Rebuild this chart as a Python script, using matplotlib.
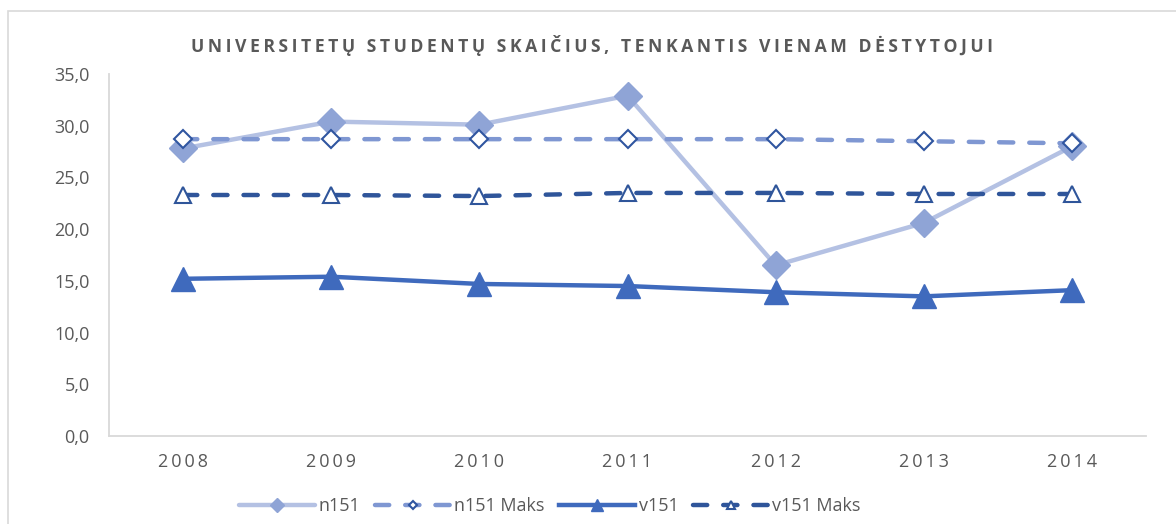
import matplotlib.pyplot as plt
import matplotlib.patches as patches
import numpy as np

years = ["2008", "2009", "2010", "2011", "2012", "2013", "2014"]
n151 = [27.8, 30.4, 30.1, 32.9, 16.5, 20.6, 28.0]
n151_maks = [28.7, 28.7, 28.7, 28.7, 28.7, 28.5, 28.3]
v151 = [15.2, 15.4, 14.7, 14.5, 13.9, 13.5, 14.1]
v151_maks = [23.3, 23.3, 23.2, 23.5, 23.5, 23.4, 23.4]

title = "UNIVERSITETŲ STUDENTŲ SKAIČIUS, TENKANTIS VIENAM DĖSTYTOJUI"
fonts = ["Open Sans", "DejaVu Sans"]
txt = "#595959"


def spaced(s, sep="\u2009"):
    return sep.join(s)


fig = plt.figure(figsize=(11.76, 5.24), dpi=100)
ax = fig.add_axes([109 / 1176, (524 - 436) / 524, (1146 - 109) / 1176, (436 - 74) / 524])

# outer chart frame (clipped on right / bottom)
fig.patches.append(patches.Rectangle((8 / 1176, -0.1), 1.2, (524 - 11) / 524 + 0.1,
                                     transform=fig.transFigure, fill=False,
                                     edgecolor="#D9D9D9", linewidth=1.2))

x = np.arange(len(years))
ax.plot(x, n151, color="#B4C1E3", lw=3.2, marker="D", ms=14, mfc="#8FA4D6", mec="#8FA4D6",
        label="n151", zorder=3, solid_capstyle="round")
ax.plot(x, n151_maks, color="#7F97D2", lw=3.2, ls=(0, (3.2, 3.6)), dash_capstyle="round",
        marker="D", ms=9, mfc="white", mec="#2F55A0", mew=1.5, label="n151 Maks", zorder=4)
ax.plot(x, v151, color="#3F6ABD", lw=3.2, marker="^", ms=17, mfc="#3F6ABD", mec="#3F6ABD",
        label="v151", zorder=3)
ax.plot(x, v151_maks, color="#2F559A", lw=3.2, ls=(0, (3.2, 3.6)), dash_capstyle="round",
        marker="^", ms=11, mfc="white", mec="#2F559A", mew=1.5, label="v151 Maks", zorder=4)

ax.set_xlim(-0.5, len(years) - 0.5)
ax.set_ylim(0, 35)
ax.set_yticks(np.arange(0, 35.1, 5))
ax.set_yticklabels([f"{v:.1f}".replace(".", ",") for v in np.arange(0, 35.1, 5)],
                   fontsize=13, color=txt, family=fonts)
ax.set_xticks(x)
ax.set_xticklabels([spaced(y, "\u2009") for y in years], fontsize=13, color=txt, family=fonts)
ax.tick_params(length=0, pad=12)
ax.tick_params(axis="y", pad=14)

for s in ["top", "right"]:
    ax.spines[s].set_visible(False)
for s in ["left", "bottom"]:
    ax.spines[s].set_color("#D9D9D9")
    ax.spines[s].set_linewidth(1.3)

fig.text(0.5 + 4 / 1176, (524 - 45) / 524, spaced(title), ha="center", va="center", fontsize=12.7,
         fontweight="bold", color=txt, family=fonts)

leg = fig.legend(loc="center", bbox_to_anchor=(550 / 1176, (524 - 506) / 524), ncol=4,
                 frameon=False, handlelength=4.2, columnspacing=0.8, handletextpad=0.2,
                 markerscale=0.5, prop={"family": fonts, "size": 13})
for t in leg.get_texts():
    t.set_color(txt)

fig.savefig("out.png", dpi=100)
